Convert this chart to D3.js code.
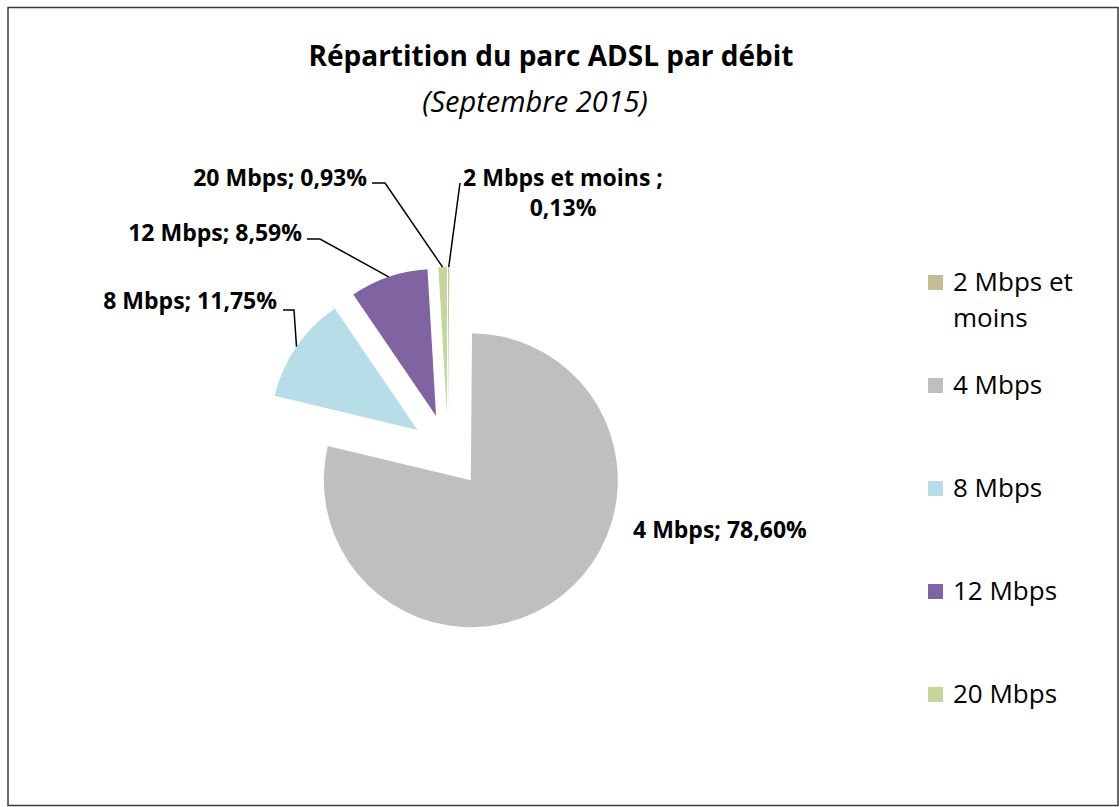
<!DOCTYPE html>
<html>
<head>
<meta charset="utf-8">
<script src="https://cdn.jsdelivr.net/npm/d3@7"></script>
<style>
  body { margin: 0; background: #fff; }
  text { font-family: 'Open Sans', sans-serif; fill: #000; }
</style>
</head>
<body>
<div id="chart"></div>
<script>
const categories = ['2 Mbps et moins', '4 Mbps', '8 Mbps', '12 Mbps', '20 Mbps']
const shares = [0.13, 78.60, 11.75, 8.59, 0.93]
const labelNames = ['2 Mbps et moins ;', '4 Mbps;', '8 Mbps;', '12 Mbps;', '20 Mbps;']
const legendLines = [['2 Mbps et', 'moins'], ['4 Mbps'], ['8 Mbps'], ['12 Mbps'], ['20 Mbps']]
const colors = ['#C4BD97', '#BFBFBF', '#B7DEE8', '#8064A2', '#C3D69B']

const width = 1119
const height = 807

const svg = d3
  .select('#chart')
  .append('svg')
  .attr('width', width)
  .attr('height', height)

// chart frame
svg
  .append('rect')
  .attr('x', 8)
  .attr('y', 7.5)
  .attr('width', 1110)
  .attr('height', 798)
  .attr('fill', '#fff')
  .attr('stroke', '#3a3a3a')
  .attr('stroke-width', 1.5)

svg
  .append('text')
  .attr('x', 551)
  .attr('y', 66)
  .attr('text-anchor', 'middle')
  .style('font-size', '28px')
  .style('font-weight', 'bold')
  .text('Répartition du parc ADSL par débit')

svg
  .append('text')
  .attr('x', 535)
  .attr('y', 112)
  .attr('text-anchor', 'middle')
  .style('font-size', '29px')
  .style('font-style', 'italic')
  .text('(Septembre 2015)')

const cx = 448
const cy = 451
const radius = 147
const explode = 37

const pie = d3.pie().sort(null).value(d => d)
const arc = d3.arc().innerRadius(0).outerRadius(radius)
const arcs = pie(shares)

const midDir = d => {
  const a = (d.startAngle + d.endAngle) / 2
  return [Math.sin(a), -Math.cos(a)]
}

const g = svg.append('g').attr('transform', `translate(${cx},${cy})`)

g.selectAll('path')
  .data(arcs)
  .enter()
  .append('path')
  .attr('d', arc)
  .attr('fill', (d, i) => colors[i])
  .attr('transform', d => {
    const [dx, dy] = midDir(d)
    return `translate(${dx * explode},${dy * explode})`
  })

// label layout (hand placed, like the original)
const labelLayout = [
  { x: 563, y: 186, anchor: 'middle', split: true, elbow: [[460, 183]] },
  { x: 633, y: 538, anchor: 'start', elbow: null },
  { x: 277, y: 309, anchor: 'end', elbow: [[283, 310], [294, 310]] },
  { x: 302, y: 241, anchor: 'end', elbow: [[307, 239], [320, 239]] },
  { x: 367, y: 186, anchor: 'end', elbow: [[372, 183], [385, 183]] }
]

const fmt = v => d3.format('.2f')(v).replace('.', ',') + '%'

arcs.forEach((d, i) => {
  const L = labelLayout[i]
  if (L.elbow) {
    const [dx, dy] = midDir(d)
    const end = [cx + dx * (radius + explode), cy + dy * (radius + explode)]
    svg
      .append('path')
      .attr('d', d3.line()(L.elbow.concat([end])))
      .attr('fill', 'none')
      .attr('stroke', '#000')
      .attr('stroke-width', 1.5)
  }
  const t = svg
    .append('text')
    .attr('x', L.x)
    .attr('y', L.y)
    .attr('text-anchor', L.anchor)
    .style('font-size', '23px')
    .style('font-weight', 'bold')
  if (L.split) {
    t.append('tspan').attr('x', L.x).text(labelNames[i])
    t.append('tspan').attr('x', L.x).attr('dy', 30).text(fmt(shares[i]))
  } else {
    t.text(labelNames[i] + ' ' + fmt(shares[i]))
  }
})

// legend
const legendY = d3.scalePoint().domain(categories).range([291, 703])

const legend = svg
  .selectAll('.legend')
  .data(categories)
  .enter()
  .append('g')
  .attr('class', 'legend')
  .attr('transform', d => `translate(928,${legendY(d)})`)

legend
  .append('rect')
  .attr('x', 0)
  .attr('y', -16)
  .attr('width', 15)
  .attr('height', 15)
  .attr('fill', (d, i) => colors[i])

legend
  .append('text')
  .attr('x', 25)
  .attr('y', 0)
  .style('font-size', '26px')
  .each(function(d, i) {
    const t = d3.select(this)
    legendLines[i].forEach((line, j) => {
      t.append('tspan').attr('x', 25).attr('dy', j === 0 ? 0 : 36).text(line)
    })
  })
</script>
</body>
</html>
